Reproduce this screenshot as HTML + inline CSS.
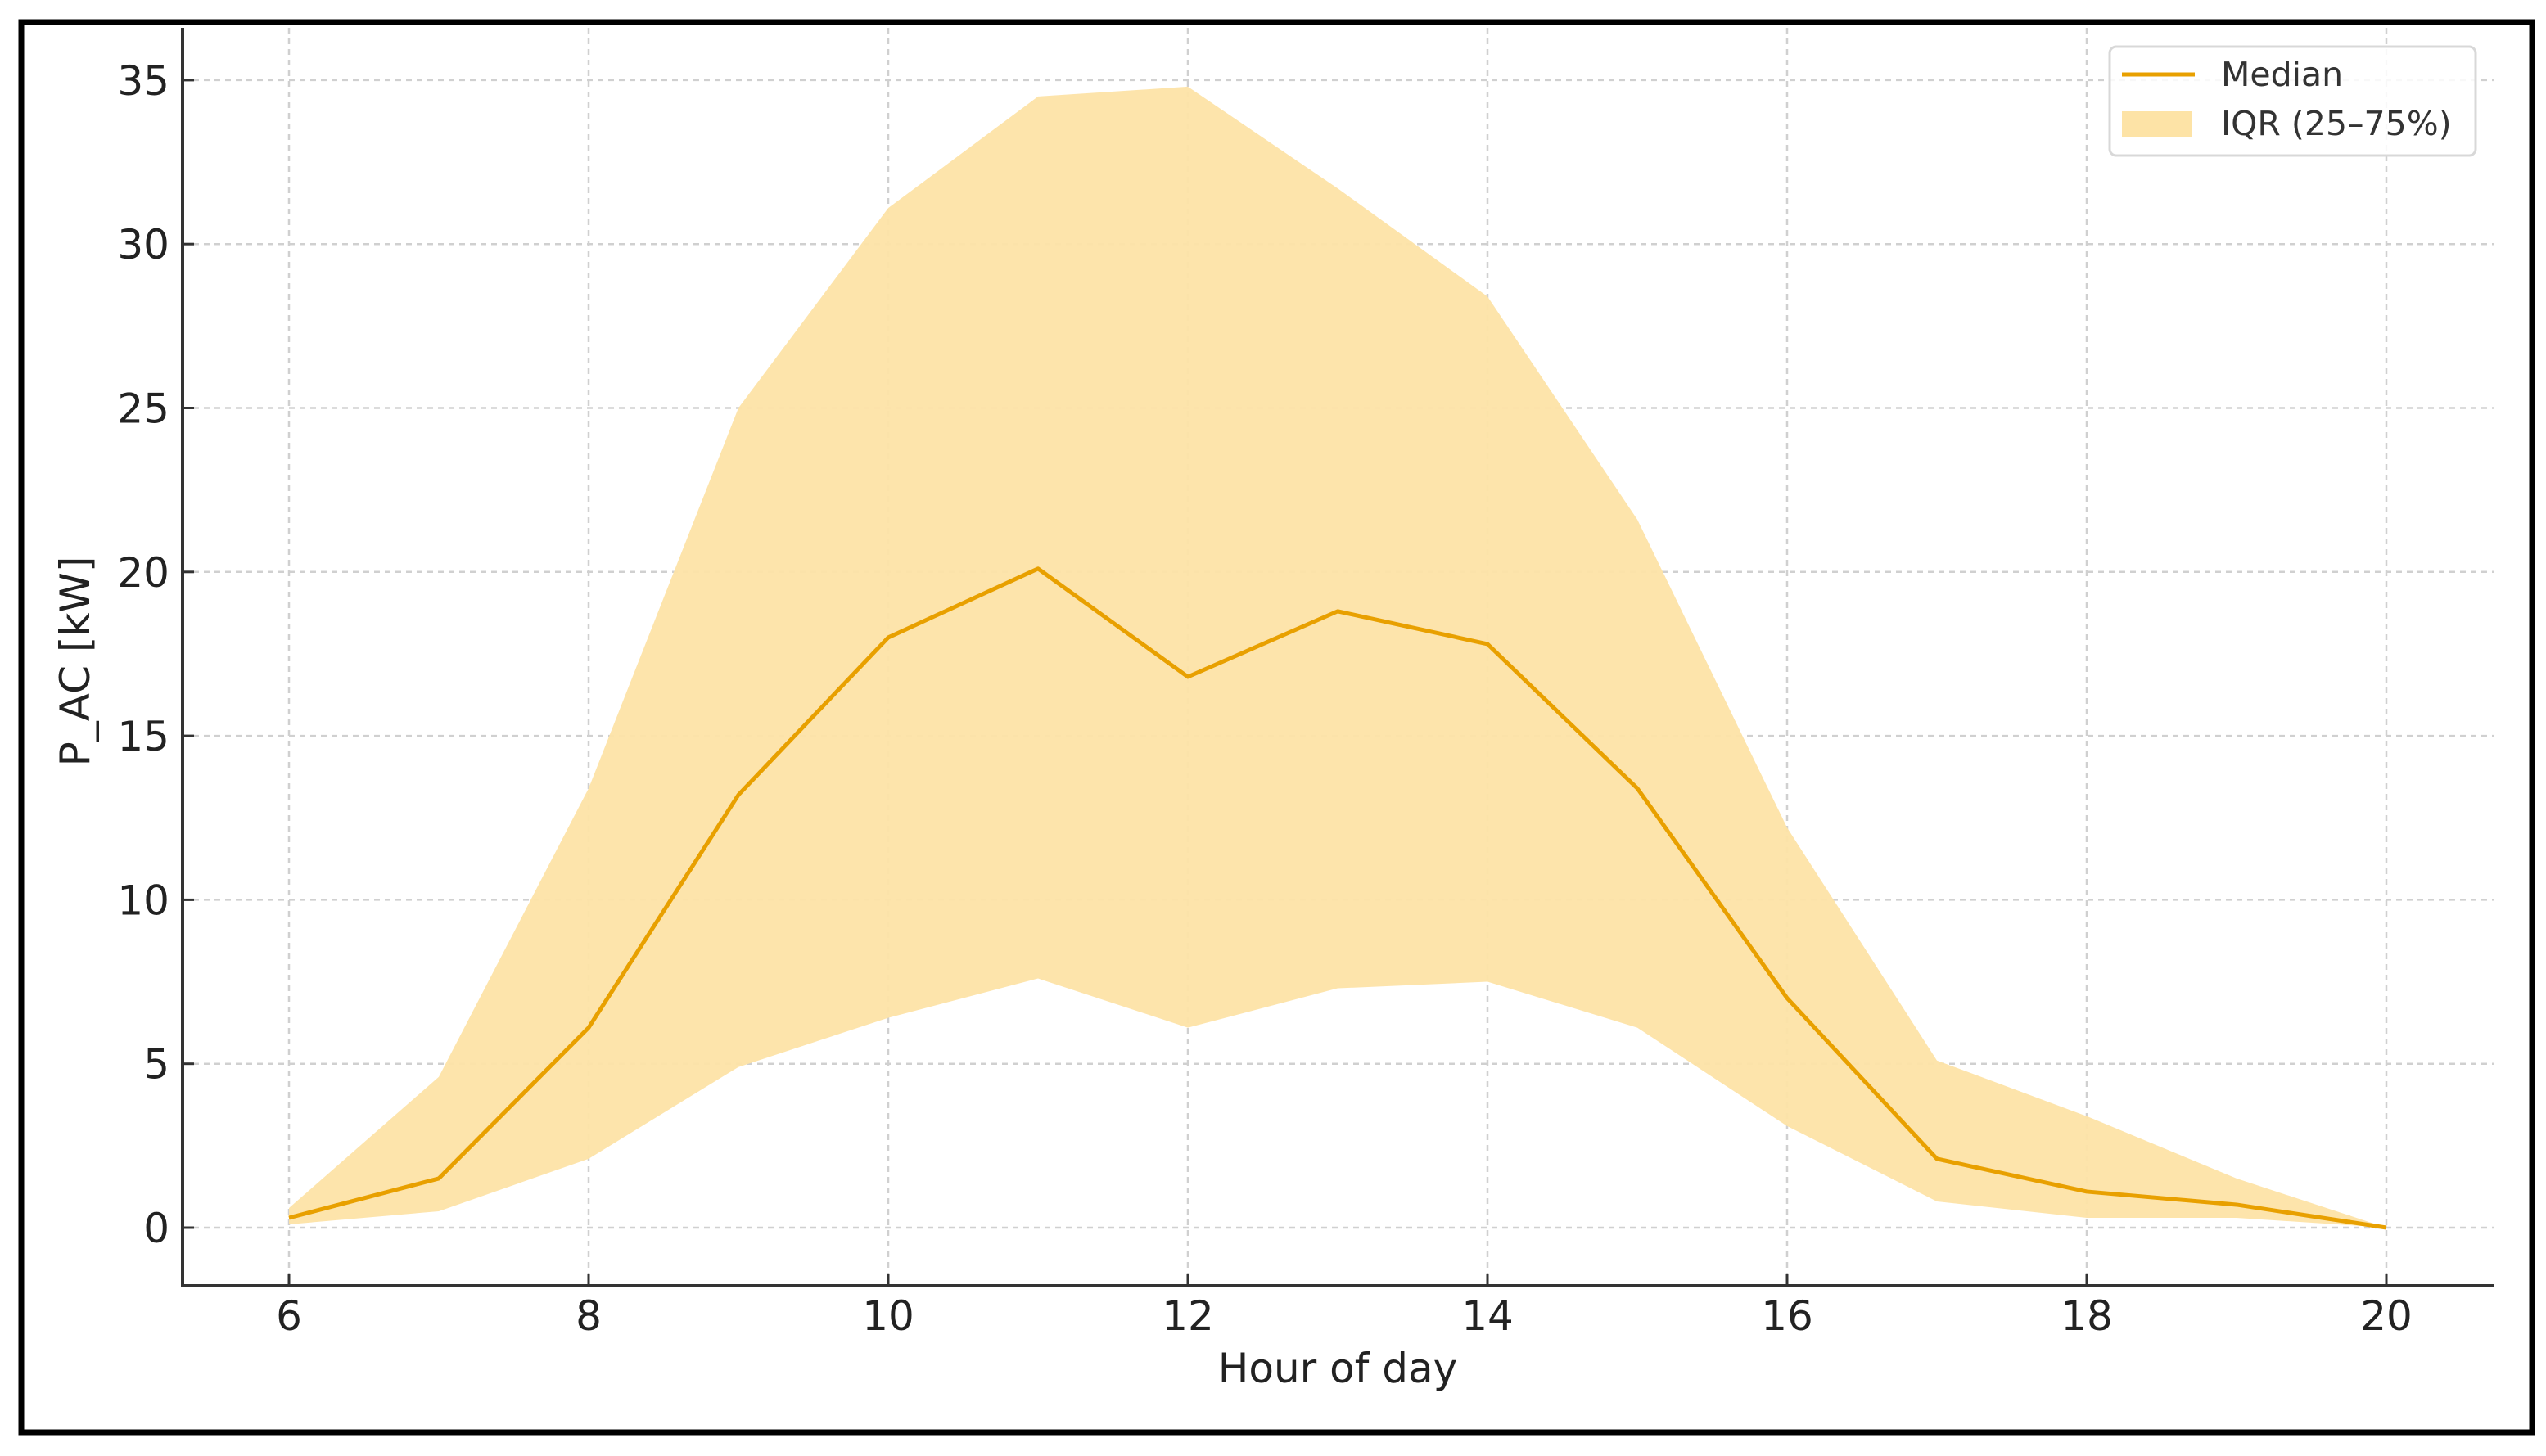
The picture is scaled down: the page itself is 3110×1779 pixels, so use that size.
<!DOCTYPE html>
<html><head><meta charset="utf-8"><style>
html,body{margin:0;padding:0;background:#fff;}
svg{display:block;font-family:"DejaVu Sans","Liberation Sans",sans-serif;}
</style></head><body>
<svg id="chart" width="3110" height="1779" viewBox="0 0 3110 1779" xmlns="http://www.w3.org/2000/svg">
<rect x="0" y="0" width="3110" height="1779" fill="#fff"/>
<rect x="26" y="27" width="3067" height="1723" fill="none" stroke="#000" stroke-width="7"/>
<g id="grid"></g>
<g id="marks"></g>
<g id="axes"></g>
<text x="109" y="808" font-size="50" fill="#222" text-anchor="middle" transform="rotate(-90 109 808)">P_AC [kW]</text>
<text x="1634" y="1689" font-size="50" fill="#222" text-anchor="middle">Hour of day</text>
<g>
<rect x="2577" y="57" width="447" height="133" rx="8" fill="#fff" fill-opacity="0.85" stroke="#d8d8d8" stroke-width="3"/>
<line x1="2592" y1="91" x2="2681" y2="91" stroke="#e8a000" stroke-width="5"/>
<text x="2713" y="105" font-size="41" fill="#333">Median</text>
<rect x="2592" y="136" width="86" height="31" fill="#fde3a6"/>
<text x="2713" y="165" font-size="41" fill="#333">IQR (25–75%)</text>
</g>
</svg>
<script>
const hours = [6,7,8,9,10,11,12,13,14,15,16,17,18,19,20];
const median = [0.3,1.5,6.1,13.2,18.0,20.1,16.8,18.8,17.8,13.4,7.0,2.1,1.1,0.7,0];
const q75 = [0.6,4.6,13.4,25.0,31.1,34.5,34.8,31.7,28.4,21.6,12.2,5.1,3.4,1.5,0];
const q25 = [0.1,0.5,2.1,4.9,6.4,7.6,6.1,7.3,7.5,6.1,3.1,0.8,0.3,0.3,0];
const xTicks = [6,8,10,12,14,16,18,20];
const yTicks = [0,5,10,15,20,25,30,35];

const NS = "http://www.w3.org/2000/svg";
const X0 = 353, PXH = 183, Y0 = 1500, PXU = 40.06;
const LEFT = 223, BOTTOM = 1571, TOP = 34, RIGHT = 3047;
function sx(h){ return X0 + (h - 6) * PXH; }
function sy(v){ return Y0 - v * PXU; }
function mk(tag, attrs, parent){ const e = document.createElementNS(NS, tag); for (const k in attrs) e.setAttribute(k, attrs[k]); parent.appendChild(e); return e; }

const grid = document.getElementById('grid');
const marks = document.getElementById('marks');
const axes = document.getElementById('axes');

xTicks.forEach(t => {
  const l = mk('line', {x1: sx(t), x2: sx(t), y1: TOP, y2: BOTTOM, stroke: '#d0d0d0', 'stroke-width': 2.5, 'stroke-dasharray': '7 6'}, grid);
  
  
});
yTicks.forEach(t => {
  const l = mk('line', {x1: LEFT, x2: RIGHT, y1: sy(t), y2: sy(t), stroke: '#d0d0d0', 'stroke-width': 2.5, 'stroke-dasharray': '7 6'}, grid);
  
  
});

let d = '';
hours.forEach((h, i) => { d += (i ? 'L' : 'M') + sx(h) + ' ' + sy(q75[i]) + ' '; });
for (let i = hours.length - 1; i >= 0; i--) d += 'L' + sx(hours[i]) + ' ' + sy(q25[i]) + ' ';
d += 'Z';
const band = mk('path', {d: d, fill: '#fde3a6', 'fill-opacity': 0.95}, marks);



const pts = hours.map((h, i) => sx(h) + ',' + sy(median[i])).join(' ');
const line = mk('polyline', {points: pts, fill: 'none', stroke: '#e8a000', 'stroke-width': 5, 'stroke-linejoin': 'round'}, marks);



const ls = mk('line', {x1: LEFT, x2: LEFT, y1: TOP, y2: BOTTOM + 2, stroke: '#333', 'stroke-width': 4}, axes);


const bs = mk('line', {x1: LEFT - 2, x2: RIGHT, y1: BOTTOM, y2: BOTTOM, stroke: '#333', 'stroke-width': 4}, axes);



xTicks.forEach(t => {
  const tk = mk('line', {x1: sx(t), x2: sx(t), y1: BOTTOM, y2: BOTTOM - 14, stroke: '#333', 'stroke-width': 3}, axes);
  
  
  const tx = mk('text', {x: sx(t), y: BOTTOM + 54, 'font-size': 50, fill: '#222', 'text-anchor': 'middle'}, axes);
  tx.textContent = t;
  
  
});
yTicks.forEach(t => {
  const tk = mk('line', {x1: LEFT, x2: LEFT + 14, y1: sy(t), y2: sy(t), stroke: '#333', 'stroke-width': 3}, axes);
  
  
  const tx = mk('text', {x: 207, y: sy(t) + 18, 'font-size': 50, fill: '#222', 'text-anchor': 'end'}, axes);
  tx.textContent = t;
  
  
});
</script>
</body></html>
